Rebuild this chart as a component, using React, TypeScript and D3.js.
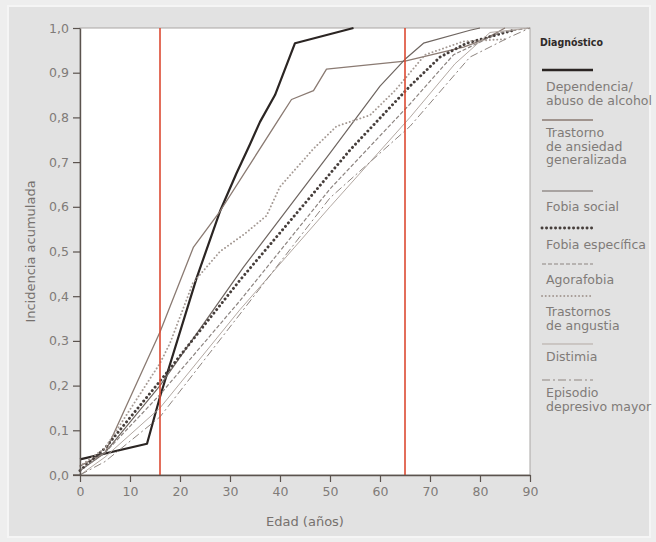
import * as d3 from "d3";
import React, {useEffect, useRef} from "react";

// edad (años), incidencia acumulada
const alcohol: [number, number][] = [[0, 0.035], [13.4, 0.07], [16, 0.175], [23.3, 0.44], [28, 0.59], [31.3, 0.675], [34, 0.74], [36, 0.79], [39, 0.85], [43, 0.966], [54.7, 1.0]];
const ansiedad: [number, number][] = [[0, 0.02], [5, 0.05], [16, 0.32], [22.7, 0.51], [28, 0.59], [40, 0.8], [42.3, 0.84], [46.7, 0.86], [49.3, 0.908], [65, 0.926], [76.7, 0.957], [81, 0.975], [85, 1.0]];
const fobiaSocial: [number, number][] = [[0, 0.01], [5, 0.05], [16, 0.2], [32.7, 0.465], [50, 0.72], [60, 0.87], [65, 0.93], [68.7, 0.966], [78, 0.995], [80, 1.0]];
const fobiaEspecifica: [number, number][] = [[0, 0.01], [5, 0.06], [16, 0.21], [32, 0.436], [54, 0.727], [66, 0.87], [72, 0.935], [77.3, 0.966], [86.7, 0.995]];
const agorafobia: [number, number][] = [[0, 0.01], [5, 0.05], [16, 0.18], [32, 0.39], [50, 0.64], [66, 0.83], [74.7, 0.94], [84, 0.99], [90, 1.0]];
const angustia: [number, number][] = [[0, 0.02], [5, 0.06], [16, 0.25], [18, 0.295], [22.6, 0.43], [28, 0.5], [33, 0.54], [37.3, 0.58], [40, 0.645], [46.7, 0.73], [51.3, 0.78], [58, 0.805], [63, 0.86], [69, 0.94], [76.7, 0.97], [85, 0.975]];
const distimia: [number, number][] = [[0, 0.0], [5, 0.04], [16, 0.15], [32, 0.37], [50, 0.6], [66, 0.8], [75, 0.92], [82, 0.99], [90, 1.0]];
const depresivo: [number, number][] = [[0, 0.0], [5, 0.03], [16, 0.13], [32, 0.36], [50, 0.62], [66, 0.78], [78, 0.935], [86, 0.98], [90, 1.0]];

const legendLabels = [
  ["Dependencia/", "abuso de alcohol"],
  ["Trastorno", "de ansiedad", "generalizada"],
  ["Fobia social"],
  ["Fobia específica"],
  ["Agorafobia"],
  ["Trastornos", "de angustia"],
  ["Distimia"],
  ["Episodio", "depresivo mayor"],
];

const yTicks = [0, 0.1, 0.2, 0.3, 0.4, 0.5, 0.6, 0.7, 0.8, 0.9, 1.0];
const xTicks = [0, 10, 20, 30, 40, 50, 60, 70, 80, 90];
const cutoffs = [16, 65];

const styles = [
  {color: "#2b2523", width: 2.2, dash: null, cap: "butt"},
  {color: "#8a7a72", width: 1.3, dash: null, cap: "butt"},
  {color: "#6e6560", width: 1.2, dash: null, cap: "butt"},
  {color: "#463e3b", width: 2.9, dash: "0.1,4.4", cap: "round"},
  {color: "#8c8480", width: 1.2, dash: "4,2", cap: "butt"},
  {color: "#a59a94", width: 1.9, dash: "0.1,3.6", cap: "round"},
  {color: "#b3a9a3", width: 1, dash: null, cap: "butt"},
  {color: "#8e8580", width: 1, dash: "8,3,2,3", cap: "butt"},
];

const seriesData = [alcohol, ansiedad, fobiaSocial, fobiaEspecifica, agorafobia, angustia, distimia, depresivo];

// línea de muestra y primera línea de texto de cada entrada
const legendLineY = [70, 120, 191, 228, 264, 296, 344, 380];
const legendTextY = [91, 137, 211, 249, 284, 316, 361, 397];

const FONT = "'DejaVu Sans', sans-serif";
const BOLD_FONT = "'DejaVu Sans Condensed', 'DejaVu Sans', sans-serif";

const App: React.FC = () => {
  const svgRef = useRef<SVGSVGElement | null>(null);

  useEffect(() => {
    if (!svgRef.current) {
      return
    }
    const svg = d3.select(svgRef.current);
    svg.selectAll("*").remove();

    const left = 80, right = 530, top = 28, bottom = 475;

    svg.append("rect").attr("width", 656).attr("height", 542).attr("fill", "#eeeeee");
    svg.append("rect")
      .attr("x", 8).attr("y", 6).attr("width", 642).attr("height", 531)
      .attr("fill", "#e2e2e2").attr("stroke", "#f5f5f5").attr("stroke-width", 2);

    const x = d3.scaleLinear().domain([0, 90]).range([left, right]);
    const y = d3.scaleLinear().domain([0, 1]).range([bottom, top]);

    svg.append("rect")
      .attr("x", left).attr("y", top)
      .attr("width", right - left).attr("height", bottom - top)
      .attr("fill", "#ffffff").attr("stroke", "#a9a6a4").attr("stroke-width", 1);

    const line = d3.line<[number, number]>().x(d => x(d[0])).y(d => y(d[1]));

    const g = svg.append("g");
    seriesData.forEach((pts, i) => {
      const s = styles[i];
      g.append("path")
        .attr("d", line(pts))
        .attr("fill", "none")
        .attr("stroke", s.color)
        .attr("stroke-width", s.width)
        .attr("stroke-dasharray", s.dash)
        .attr("stroke-linecap", s.cap)
        .attr("stroke-linejoin", "round");
    });

    svg.selectAll(".cut")
      .data(cutoffs)
      .enter().append("line")
      .attr("x1", d => x(d)).attr("x2", d => x(d))
      .attr("y1", top).attr("y2", bottom)
      .attr("stroke", "#dc4a32").attr("stroke-width", 1.6);

    const xAxis = svg.append("g")
      .attr("transform", `translate(0,${bottom})`)
      .call(d3.axisBottom(x).tickValues(xTicks).tickSize(7).tickPadding(5).tickSizeOuter(0));
    const yAxis = svg.append("g")
      .attr("transform", `translate(${left},0)`)
      .call(d3.axisLeft(y).tickValues(yTicks).tickSize(7).tickPadding(4).tickSizeOuter(0)
        .tickFormat(d => d3.format(".1f")(d as number).replace(".", ",")));

    [xAxis, yAxis].forEach(a => {
      a.select(".domain").attr("stroke", "#5b534e").attr("stroke-width", 1.4);
      a.selectAll(".tick line").attr("stroke", "#5b534e").attr("stroke-width", 1.2);
      a.selectAll(".tick text").attr("fill", "#807b78").attr("font-size", 12.5).attr("font-family", FONT);
    });
    // el eje x se prolonga a la izquierda del origen
    xAxis.append("line").attr("x1", left - 7).attr("x2", left).attr("stroke", "#5b534e").attr("stroke-width", 1.4);

    svg.append("text")
      .attr("x", 305).attr("y", 526)
      .attr("text-anchor", "middle")
      .attr("fill", "#76716e").attr("font-size", 13).attr("font-family", FONT)
      .text("Edad (años)");

    svg.append("text")
      .attr("transform", `translate(35,${(top + bottom) / 2}) rotate(-90)`)
      .attr("text-anchor", "middle")
      .attr("fill", "#76716e").attr("font-size", 13).attr("font-family", FONT)
      .text("Incidencia acumulada");

    const legend = svg.append("g");
    legend.append("text")
      .attr("x", 540).attr("y", 46)
      .attr("fill", "#2f2a28").attr("font-size", 10.5).attr("font-weight", "bold").attr("font-family", BOLD_FONT)
      .text("Diagnóstico");

    legendLabels.forEach((lines, i) => {
      const s = styles[i];
      legend.append("line")
        .attr("x1", 542).attr("x2", 593)
        .attr("y1", legendLineY[i]).attr("y2", legendLineY[i])
        .attr("stroke", s.color)
        .attr("stroke-width", i === 0 ? 2.4 : s.width)
        .attr("stroke-dasharray", s.dash)
        .attr("stroke-linecap", s.cap);
      lines.forEach((t, j) => {
        legend.append("text")
          .attr("x", 546).attr("y", legendTextY[i] + j * 13.5)
          .attr("fill", "#807b78").attr("font-size", 12.5).attr("font-family", FONT)
          .text(t);
      });
    });
  }, []);

  return (
    <svg
      ref={svgRef}
      width={656}
      height={542}
      style={{position: "absolute", left: 0, top: 0, display: "block"}}
    />
  );
}

export default App;
